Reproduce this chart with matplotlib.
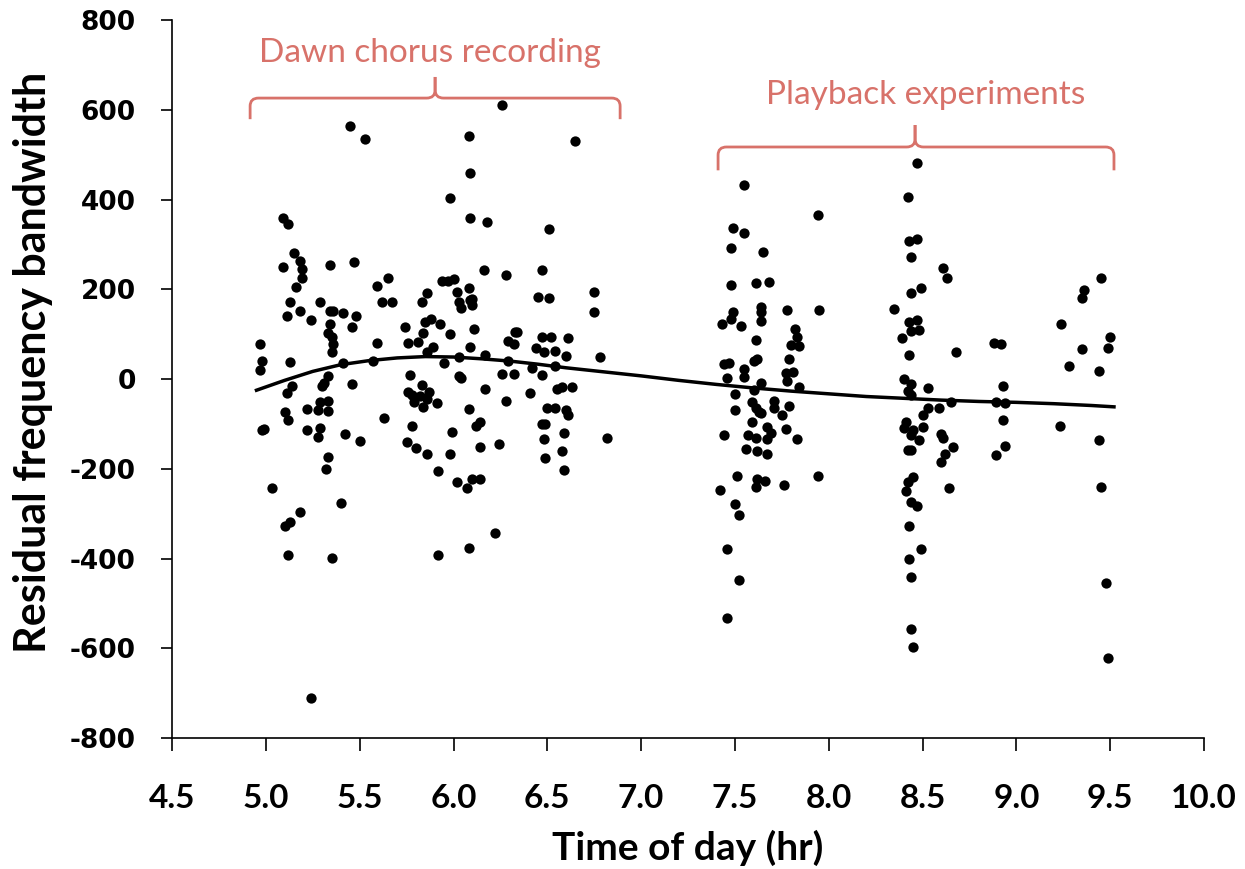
import numpy as np
import matplotlib.pyplot as plt
from matplotlib.path import Path
from matplotlib.patches import PathPatch

plt.rcParams['axes.unicode_minus'] = False

# dawn chorus recordings (time of day, residual bandwidth)
dawn_x = [4.97, 4.98, 4.97, 4.98, 4.99, 5.03, 5.09, 5.12, 5.15, 5.09, 5.18, 5.19, 5.19, 5.16,
          5.13, 5.11, 5.18, 5.24, 5.29, 5.34, 5.36, 5.41, 5.48, 5.46, 5.34, 5.33, 5.35, 5.36,
          5.35, 5.34, 5.47, 5.45, 5.53, 5.13, 5.41, 5.33, 5.14, 5.11, 5.30, 5.31, 5.46, 5.10,
          5.12, 5.22, 5.29, 5.33, 5.28, 5.33, 5.22, 5.29, 5.28, 5.42, 5.50, 5.33, 5.32, 5.40,
          5.18, 5.10, 5.13, 5.12, 5.35, 5.24,
          5.59, 5.65, 5.62, 5.67, 5.59, 5.57, 5.63, 5.74, 5.76, 5.81, 5.84, 5.83, 5.86, 5.85,
          5.88, 5.89, 5.86, 5.77, 5.83, 5.76, 5.78, 5.82, 5.87, 5.79, 5.84, 5.91, 5.86, 5.78,
          5.75, 5.80, 5.86, 5.92, 5.92, 5.93, 5.98, 5.95, 5.94, 5.97, 6.00, 5.98, 5.99, 5.98,
          6.26, 6.08, 6.65, 6.09, 6.09, 6.18, 6.51, 6.16, 6.28, 6.47, 6.02, 6.08, 6.03, 6.09,
          6.10, 6.04, 6.10, 6.45, 6.51, 6.75, 6.75, 6.11, 6.09, 6.17, 6.03, 6.33, 6.34, 6.29,
          6.32, 6.29, 6.47, 6.52, 6.61, 6.44, 6.48, 6.54, 6.60, 6.78, 6.42, 6.47, 6.54, 6.26,
          6.32, 6.03, 6.04, 6.17, 6.41, 6.28, 6.55, 6.58, 6.63, 6.08, 6.50, 6.54, 6.60, 6.61,
          6.12, 6.14, 6.47, 6.49, 6.59, 6.48, 6.82, 6.14, 6.24, 6.58, 6.49, 6.59, 6.02, 6.07,
          6.10, 6.14, 6.22, 6.08]
dawn_y = [78, 40, 20, -114, -111, -243, 359, 345, 281, 250, 263, 245, 225, 205,
          171, 141, 152, 131, 171, 152, 152, 147, 141, 116, 122, 103, 94, 78,
          60, 254, 261, 563, 535, 38, 36, 7, -16, -31, -16, -9, -11, -73,
          -92, -67, -51, -49, -69, -71, -114, -109, -129, -122, -138, -174, -200, -276,
          -296, -327, -318, -392, -399, -711,
          207, 225, 171, 171, 80, 40, -87, 116, 80, 82, 103, 171, 192, 127,
          134, 71, 60, 9, -13, -29, -36, -38, -29, -51, -62, -53, -45, -105,
          -140, -154, -167, -205, -392, 122, 100, 36, 218, 218, 223, 403, -118, -167,
          610, 541, 530, 459, 359, 350, 334, 243, 232, 243, 194, 203, 171, 176,
          178, 158, 165, 183, 181, 194, 149, 111, 71, 53, 49, 105, 105, 85,
          78, 40, 94, 94, 91, 69, 60, 62, 51, 49, 24, 9, 29, 11,
          11, 7, 3, -22, -31, -49, -22, -18, -18, -67, -65, -65, -69, -80,
          -105, -96, -100, -100, -120, -134, -131, -151, -145, -160, -176, -203, -229, -243,
          -223, -223, -343, -376]

# playback experiments
play_x = [7.55, 7.94, 7.49, 7.55, 7.48, 7.65, 7.48, 7.61, 7.68, 7.64, 7.64, 7.64, 7.78, 7.95,
          7.49, 7.48, 7.43, 7.53, 7.61, 7.82, 7.83, 7.80, 7.84, 7.79, 7.60, 7.62, 7.44, 7.47,
          7.55, 7.55, 7.46, 7.77, 7.81, 7.78, 7.84, 7.64, 7.60, 7.50, 7.50, 7.59, 7.63, 7.61,
          7.71, 7.71, 7.75, 7.79, 7.64, 7.59, 7.67, 7.69, 7.67, 7.57, 7.61, 7.44, 7.77, 7.83,
          7.56, 7.62, 7.67, 7.51, 7.62, 7.66, 7.61, 7.76, 7.94, 7.42, 7.50, 7.52, 7.46, 7.52,
          7.46,
          8.47, 8.42, 8.43, 8.47, 8.44, 8.61, 8.63, 8.44, 8.49, 8.35, 8.43, 8.47, 8.44, 8.48,
          8.39, 8.43, 8.68, 8.88, 8.92, 8.40, 8.44, 8.42, 8.44, 8.53, 8.93, 8.65, 8.53, 8.59,
          8.89, 8.94, 8.50, 8.41, 8.40, 8.45, 8.50, 8.44, 8.48, 8.60, 8.61, 8.66, 8.62, 8.60,
          8.64, 8.42, 8.44, 8.45, 8.42, 8.41, 8.44, 8.47, 8.43, 8.49, 8.43, 8.44, 8.44, 8.45,
          8.93, 8.94, 8.89,
          9.45, 9.36, 9.35, 9.24, 9.50, 9.49, 9.35, 9.28, 9.44, 9.23, 9.44, 9.45, 9.48, 9.49]
play_y = [432, 365, 336, 325, 292, 283, 209, 214, 216, 160, 149, 129, 154, 154,
          149, 134, 122, 118, 87, 111, 94, 76, 74, 45, 40, 45, 33, 36,
          22, 4, 2, 13, 16, -4, -18, -9, -24, -33, -69, -51, -73, -65,
          -49, -65, -80, -60, -76, -96, -107, -120, -134, -125, -131, -125, -111, -134,
          -156, -160, -167, -216, -223, -227, -241, -236, -216, -247, -279, -303, -379, -448,
          -532,
          481, 405, 307, 312, 272, 247, 225, 192, 203, 156, 127, 131, 107, 109,
          91, 53, 60, 80, 78, 0, -11, -27, -36, -20, -16, -51, -65, -65,
          -51, -53, -80, -96, -109, -114, -107, -125, -136, -122, -131, -151, -167, -185,
          -243, -158, -158, -218, -229, -249, -274, -283, -327, -379, -401, -441, -557, -597,
          -91, -149, -169,
          225, 198, 180, 122, 94, 69, 67, 29, 18, -105, -136, -241, -455, -622]

# fitted trend
trend_x = [4.95, 5.1, 5.25, 5.4, 5.55, 5.7, 5.85, 6.0, 6.15, 6.3, 6.45, 6.6, 6.8, 7.0,
           7.2, 7.4, 7.6, 7.8, 8.0, 8.2, 8.4, 8.6, 8.8, 9.0, 9.2, 9.4, 9.52]
trend_y = [-25, -3, 17, 32, 41, 47, 50, 49, 45, 40, 33, 25, 16, 7,
           -3, -12, -20, -27, -33, -39, -43, -47, -50, -52, -55, -59, -62]

brace_col = '#d8726a'


def brace(ax, x0, x1, xc, y_end, y_mid, y_tip, rx=0.045, ry=18):
    for xa, sgn in ((x0, 1), (x1, -1)):
        verts = [(xa, y_end), (xa, y_mid - ry), (xa, y_mid), (xa + sgn * rx, y_mid),
                 (xc - sgn * rx, y_mid), (xc, y_mid), (xc, y_mid + ry), (xc, y_tip)]
        codes = [Path.MOVETO, Path.LINETO, Path.CURVE3, Path.CURVE3,
                 Path.LINETO, Path.CURVE3, Path.CURVE3, Path.LINETO]
        ax.add_patch(PathPatch(Path(verts, codes), fill=False, ec=brace_col, lw=2.0,
                               clip_on=False, capstyle='butt'))


fig = plt.figure(figsize=(12.45, 8.69), dpi=100)
ax = fig.add_axes([0.1382, 0.1507, 0.8289, 0.8263])

ax.scatter(dawn_x, dawn_y, s=55, color='black', zorder=3, lw=0)
ax.scatter(play_x, play_y, s=55, color='black', zorder=3, lw=0)
ax.plot(trend_x, trend_y, color='black', lw=2.5, zorder=4)

ax.set_xlim(4.5, 10.0)
ax.set_ylim(-800, 800)
ax.set_xticks(np.arange(4.5, 10.01, 0.5))
ax.set_xticklabels(['%.1f' % v for v in np.arange(4.5, 10.01, 0.5)])
ax.set_yticks(np.arange(-800, 801, 200))

for s in ['top', 'right']:
    ax.spines[s].set_visible(False)
for s in ['left', 'bottom']:
    ax.spines[s].set_linewidth(1.2)

ax.tick_params(axis='x', direction='out', length=9, width=1.2, pad=24)
ax.tick_params(axis='y', direction='out', length=8, width=1.2, pad=18)
for lab in ax.get_xticklabels():
    lab.set_fontfamily('Lato')
    lab.set_fontweight('bold')
    lab.set_fontsize(24)
for lab in ax.get_yticklabels():
    lab.set_fontfamily('DejaVu Sans')
    lab.set_fontweight('bold')
    lab.set_fontsize(19)

ax.set_xlabel('Time of day (hr)', fontfamily='Lato', fontweight='bold', fontsize=28)
ax.xaxis.set_label_coords(0.5, -0.128)
fig.text(33 / 1245, 0.583, 'Residual frequency bandwidth', fontfamily='Lato',
         fontweight='bold', fontsize=31, rotation=90, ha='center', va='center')

brace(ax, 4.916, 6.888, 5.902, 579, 626, 673)
brace(ax, 7.410, 9.520, 8.460, 465, 517, 566)
ax.text(5.875, 706, 'Dawn chorus recording', color=brace_col, fontfamily='Lato',
        fontsize=24, ha='center', va='baseline')
ax.text(8.518, 612, 'Playback experiments', color=brace_col, fontfamily='Lato',
        fontsize=24, ha='center', va='baseline')

fig.savefig('out.png', dpi=100)
